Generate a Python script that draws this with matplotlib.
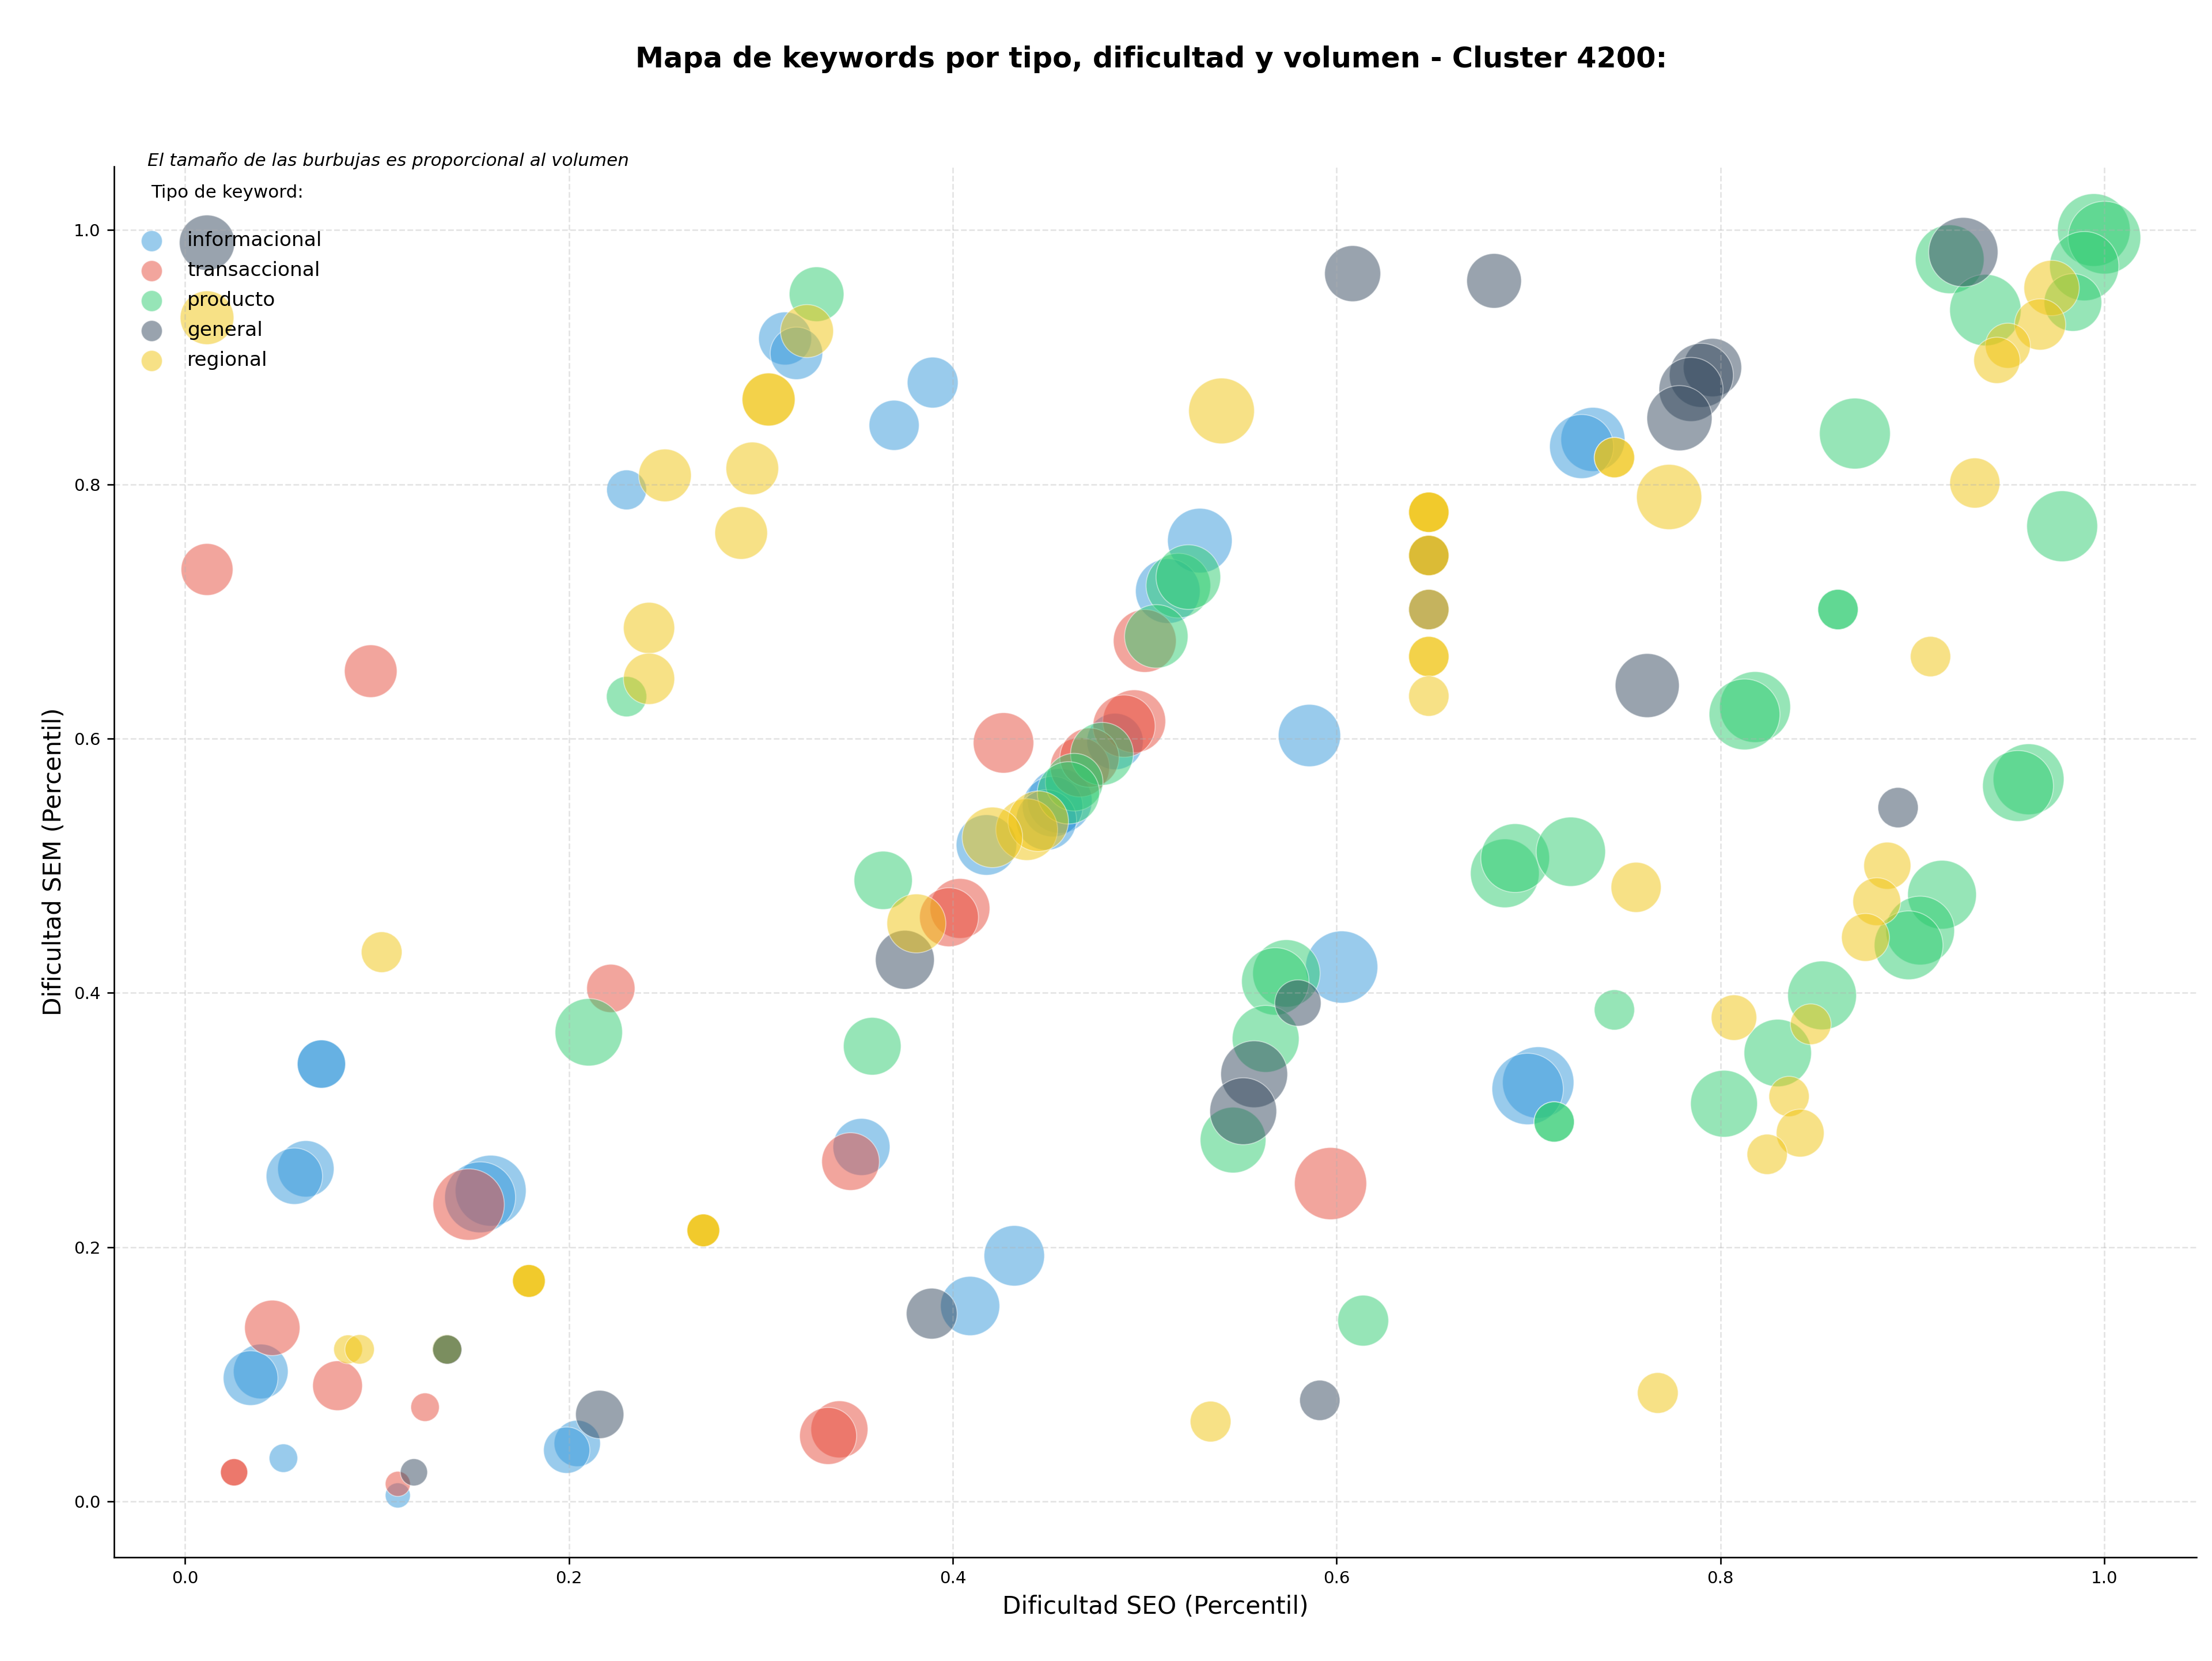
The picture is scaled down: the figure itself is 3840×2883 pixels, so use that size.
import matplotlib
matplotlib.use("Agg")
import matplotlib.pyplot as plt

# ---- categorias y colores ----
categorias = ["informacional", "transaccional", "producto", "general", "regional"]
colores = {
    "informacional": "#3498db",
    "transaccional": "#e74c3c",
    "producto": "#2ecc71",
    "general": "#34495e",
    "regional": "#f1c40f",
}

# ---- datos (orden de dibujo) ----
# informacional
inf_seo = [0.230, 0.3126, 0.3185, 0.3895, 0.3694, 0.5287, 0.512, 0.7335, 0.7276, 0.4845,
           0.4557, 0.452, 0.4487, 0.4175, 0.5858, 0.6026, 0.705, 0.6995, 0.071, 0.071,
           0.0629, 0.0569, 0.1592, 0.1537, 0.3524, 0.432, 0.409, 0.0394, 0.0341, 0.0512,
           0.1108, 0.2043, 0.1988]
inf_sem = [0.7956, 0.9147, 0.903, 0.88, 0.8464, 0.7557, 0.716, 0.8353, 0.8297, 0.5977,
           0.551, 0.5465, 0.536, 0.5163, 0.6024, 0.4203, 0.3295, 0.3244, 0.344, 0.344,
           0.2616, 0.2558, 0.2444, 0.2392, 0.2788, 0.1932, 0.1537, 0.1022, 0.097, 0.034,
           0.0047, 0.0456, 0.0403]
inf_vol = [430, 760, 745, 700, 680, 1130, 1130, 1110, 1110, 860,
           1130, 990, 990, 990, 1050, 1410, 1380, 1380, 630, 630,
           860, 860, 1360, 1360, 880, 990, 950, 810, 810, 220,
           170, 580, 580]

# transaccional
tra_seo = [0.0114, 0.0967, 0.2218, 0.4264, 0.4945, 0.4892, 0.4662, 0.4712, 0.500, 0.4037,
           0.398, 0.1477, 0.3467, 0.5968, 0.3409, 0.335, 0.0454, 0.0794, 0.125, 0.0255,
           0.0255, 0.1108]
tra_sem = [0.733, 0.653, 0.4035, 0.5966, 0.6136, 0.6098, 0.5774, 0.585, 0.6768, 0.4664,
           0.4595, 0.2335, 0.2673, 0.250, 0.0567, 0.0515, 0.1365, 0.091, 0.0741, 0.0229,
           0.0229, 0.0138]
tra_vol = [730, 750, 630, 990, 1070, 1050, 950, 950, 1070, 970,
           940, 1380, 900, 1410, 880, 880, 830, 670, 220, 200,
           200, 170]

# producto
pro_seo = [0.329, 0.230, 0.2103, 0.5175, 0.5227, 0.506, 0.4777, 0.4632, 0.4602, 0.3637,
           0.358, 0.5738, 0.568, 0.563, 0.546, 0.6138, 0.6876, 0.693, 0.722, 0.7447,
           0.7133, 0.7133, 0.8018, 0.8298, 0.8529, 0.9154, 0.904, 0.898, 0.818, 0.8125,
           0.9605, 0.955, 0.8612, 0.8612, 0.870, 0.978, 0.9194, 0.938, 0.9945, 1.000,
           0.9895, 0.9836, 0.1364]
pro_sem = [0.9495, 0.633, 0.369, 0.7203, 0.727, 0.6804, 0.588, 0.5657, 0.5573, 0.4885,
           0.358, 0.4153, 0.409, 0.3638, 0.2842, 0.1422, 0.494, 0.506, 0.511, 0.3866,
           0.2985, 0.2985, 0.3128, 0.3527, 0.398, 0.4772, 0.449, 0.4374, 0.6248, 0.619,
           0.568, 0.5627, 0.7015, 0.7015, 0.8399, 0.767, 0.977, 0.937, 1.000, 0.994,
           0.9716, 0.943, 0.1196]
pro_vol = [810, 440, 1230, 1130, 1130, 1090, 1070, 900, 1050, 920,
           900, 1230, 1230, 1210, 1170, 700, 1280, 1280, 1300, 440,
           440, 440, 1210, 1230, 1280, 1280, 1280, 1280, 1360, 1360,
           1360, 1360, 440, 440, 1360, 1360, 1280, 1380, 1430, 1430,
           1300, 900, 230]

# general
gen_seo = [0.0114, 0.6083, 0.682, 0.648, 0.648, 0.9265, 0.7958, 0.790, 0.7846, 0.7786,
           0.7618, 0.8925, 0.375, 0.5798, 0.557, 0.5513, 0.389, 0.5912, 0.216, 0.1192]
gen_sem = [0.990, 0.9657, 0.960, 0.744, 0.7015, 0.9826, 0.8918, 0.8857, 0.8746, 0.852,
           0.6417, 0.5457, 0.426, 0.392, 0.336, 0.3069, 0.1477, 0.0795, 0.0684, 0.0229]
gen_vol = [830, 850, 810, 440, 440, 1300, 920, 1110, 1110, 1150,
           1110, 440, 940, 580, 1210, 1210, 700, 440, 630, 200]

# regional
reg_seo = [0.0114, 0.324, 0.304, 0.304, 0.250, 0.2955, 0.2897, 0.2417, 0.2417, 0.1024,
           0.540, 0.648, 0.648, 0.648, 0.648, 0.648, 0.648, 0.648, 0.648, 0.648,
           0.7447, 0.7447, 0.7732, 0.9325, 0.9725, 0.9665, 0.9497, 0.944, 0.9094, 0.756,
           0.8869, 0.8814, 0.8755, 0.807, 0.847, 0.8357, 0.8415, 0.8243, 0.7673, 0.5343,
           0.4385, 0.4445, 0.4206, 0.381, 0.270, 0.270, 0.270, 0.1791,
           0.1791, 0.1791, 0.0849, 0.0909, 0.1364]
reg_sem = [0.931, 0.9205, 0.8667, 0.8667, 0.807, 0.8125, 0.7617, 0.687, 0.647, 0.432,
           0.8577, 0.778, 0.778, 0.778, 0.744, 0.744, 0.7015, 0.6645, 0.6645, 0.6334,
           0.821, 0.821, 0.790, 0.801, 0.9544, 0.9257, 0.909, 0.8975, 0.6645, 0.483,
           0.500, 0.4717, 0.4436, 0.3805, 0.3753, 0.3185, 0.2897, 0.273, 0.0853, 0.0628,
           0.5284, 0.535, 0.5223, 0.4546, 0.2132, 0.2132, 0.2132, 0.1734,
           0.1734, 0.1734, 0.1196, 0.1196, 0.1196]
reg_vol = [780, 760, 760, 760, 750, 750, 750, 710, 710, 450,
           1170, 440, 440, 440, 440, 440, 440, 440, 440, 440,
           440, 440, 1150, 680, 830, 710, 550, 580, 440, 680,
           600, 620, 620, 560, 450, 440, 620, 440, 450, 450,
           1030, 990, 990, 940, 290, 290, 290, 290,
           290, 290, 225, 235, 235]

# keyword general que queda encima de todo (burbuja oliva pequena)
extra_seo = [0.1364]
extra_sem = [0.1196]
extra_vol = [230]

series = [
    ("informacional", inf_seo, inf_sem, inf_vol),
    ("transaccional", tra_seo, tra_sem, tra_vol),
    ("producto", pro_seo, pro_sem, pro_vol),
    ("general", gen_seo, gen_sem, gen_vol),
    ("regional", reg_seo, reg_sem, reg_vol),
    ("general", extra_seo, extra_sem, extra_vol),
]

fig = plt.figure(figsize=(16, 12.0125), dpi=240)
ax = fig.add_axes([0.0516, 0.0624, 0.9414, 0.8374])

for tipo, xs, ys, vols in series:
    ax.scatter(xs, ys, s=vols, color=colores[tipo], alpha=0.5,
               edgecolors="white", linewidths=0.5)

# legend proxies
for tipo in categorias:
    ax.scatter([], [], s=120, color=colores[tipo], alpha=0.5,
               edgecolors="white", linewidths=0.5, label=tipo)

leg = ax.legend(loc="upper left", frameon=False, fontsize=10.3,
                title="Tipo de keyword:\n", title_fontsize=9.3, labelspacing=0.55)

ax.text(0.016, 1.004, "El tamaño de las burbujas es proporcional al volumen",
        transform=ax.transAxes, fontsize=9.3, style="italic", va="center", ha="left")

ax.set_xlim(-0.037, 1.048)
ax.set_ylim(-0.044, 1.05)
ax.set_xticks([0.0, 0.2, 0.4, 0.6, 0.8, 1.0])
ax.set_yticks([0.0, 0.2, 0.4, 0.6, 0.8, 1.0])
ax.tick_params(labelsize=8.8)
ax.set_xlabel("Dificultad SEO (Percentil)", fontsize=12.7)
ax.set_ylabel("Dificultad SEM (Percentil)", fontsize=12.7)
ax.grid(True, linestyle="--", alpha=0.35)
ax.spines["top"].set_visible(False)
ax.spines["right"].set_visible(False)

fig.text(0.5204, 0.9643, "Mapa de keywords por tipo, dificultad y volumen - Cluster 4200:",
         ha="center", va="center", fontsize=14.8, fontweight="bold")

fig.savefig("out.png", dpi=240)
